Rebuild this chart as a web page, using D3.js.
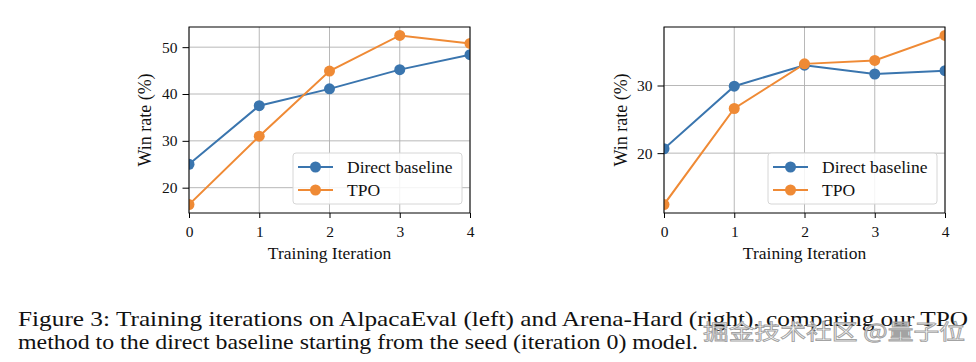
<!DOCTYPE html>
<html>
<head>
<meta charset="utf-8">
<script src="https://cdn.jsdelivr.net/npm/d3@7"></script>
<style>
  html, body { margin: 0; padding: 0; background: #fff; }
  svg { display: block; }
</style>
</head>
<body>
<svg id="chart" width="976" height="362"></svg>
<script>
// ---------------- data ----------------
const iterations = [0, 1, 2, 3, 4];
const seriesNames = ["Direct baseline", "TPO"];
const alpacaDirect = [25.0, 37.5, 41.1, 45.2, 48.4];
const alpacaTPO    = [16.4, 31.0, 44.9, 52.5, 50.8];
const arenaDirect  = [20.65, 29.9, 33.0, 31.7, 32.2];
const arenaTPO     = [12.4, 26.6, 33.2, 33.7, 37.4];
const alpacaYTicks = [20, 30, 40, 50];
const arenaYTicks  = [20, 30];
const xTicks = [0, 1, 2, 3, 4];
const xLabel = "Training Iteration";
const yLabel = "Win rate (%)";
const captionLines = [
  "Figure 3: Training iterations on AlpacaEval (left) and Arena-Hard (right), comparing our TPO",
  "method to the direct baseline starting from the seed (iteration 0) model."
];
const watermark = "掘金技术社区 @量子位";

// ---------------- style ----------------
const colors = ["#3a75ae", "#ef8a35"];
const serif = "'Liberation Serif', 'Times New Roman', serif";

const svg = d3.select("#chart");

function panel(cfg) {
  const { x0, x1, y0, y1, series, yTicks, id } = cfg;
  const all = series.flat();
  const mn = d3.min(all), mx = d3.max(all), r = mx - mn;
  const x = d3.scaleLinear().domain([0, 4]).range([x0, x1]);
  const y = d3.scaleLinear().domain([mn - 0.05 * r, mx + 0.05 * r]).range([y1, y0]);

  const g = svg.append("g");

  svg.append("defs").append("clipPath").attr("id", "clip" + id)
    .append("rect").attr("x", x0).attr("y", y0).attr("width", x1 - x0).attr("height", y1 - y0);

  // grid
  g.append("g").selectAll("line").data(xTicks).join("line")
    .attr("x1", d => x(d)).attr("x2", d => x(d)).attr("y1", y0).attr("y2", y1)
    .attr("stroke", "#b0b0b0").attr("stroke-width", 0.9);
  g.append("g").selectAll("line").data(yTicks).join("line")
    .attr("x1", x0).attr("x2", x1).attr("y1", d => y(d)).attr("y2", d => y(d))
    .attr("stroke", "#b0b0b0").attr("stroke-width", 0.9);

  // series
  const line = d3.line().x((d, i) => x(iterations[i])).y(d => y(d));
  const sg = g.append("g").attr("clip-path", `url(#clip${id})`);
  series.forEach((vals, si) => {
    sg.append("path").datum(vals).attr("d", line)
      .attr("fill", "none").attr("stroke", colors[si]).attr("stroke-width", 2);
    sg.selectAll(null).data(vals).join("circle")
      .attr("cx", (d, i) => x(iterations[i])).attr("cy", d => y(d)).attr("r", 5.5)
      .attr("fill", colors[si]);
  });

  // axes
  const xa = g.append("g").attr("transform", `translate(0,${y1})`)
    .call(d3.axisBottom(x).tickValues(xTicks).tickFormat(d3.format("d")).tickSize(5).tickPadding(8));
  const ya = g.append("g").attr("transform", `translate(${x0},0)`)
    .call(d3.axisLeft(y).tickValues(yTicks).tickFormat(d3.format("d")).tickSize(6.5).tickPadding(5));
  [xa, ya].forEach(a => {
    a.select(".domain").remove();
    a.selectAll(".tick line").attr("stroke", "#000").attr("stroke-width", 1);
    a.selectAll(".tick text").attr("font-family", serif).attr("font-size", 15.5).attr("fill", "#111");
  });

  // spines
  g.append("rect").attr("x", x0).attr("y", y0).attr("width", x1 - x0).attr("height", y1 - y0)
    .attr("fill", "none").attr("stroke", "#000").attr("stroke-width", 1);

  // labels
  g.append("text").attr("x", (x0 + x1) / 2).attr("y", 259).attr("text-anchor", "middle")
    .attr("font-family", serif).attr("font-size", 17.5).attr("fill", "#111").text(xLabel);
  g.append("text").attr("transform", `translate(${cfg.ylabX},${(y0 + y1) / 2}) rotate(-90)`)
    .attr("text-anchor", "middle")
    .attr("font-family", serif).attr("font-size", 18).attr("fill", "#111").text(yLabel);

  // legend
  const lx = cfg.legX, ly = 153, lw = 169, lh = 51;
  const lg = g.append("g");
  lg.append("rect").attr("x", lx).attr("y", ly).attr("width", lw).attr("height", lh)
    .attr("rx", 3).attr("fill", "#fff").attr("fill-opacity", 0.85)
    .attr("stroke", "#d6d6d6").attr("stroke-width", 1);
  seriesNames.forEach((name, si) => {
    const yy = ly + 14 + si * 23;
    lg.append("line").attr("x1", lx + 5).attr("x2", lx + 40).attr("y1", yy).attr("y2", yy)
      .attr("stroke", colors[si]).attr("stroke-width", 2);
    lg.append("circle").attr("cx", lx + 22.5).attr("cy", yy).attr("r", 5.5).attr("fill", colors[si]);
    lg.append("text").attr("x", lx + 54).attr("y", yy + 6).attr("font-family", serif)
      .attr("font-size", 17.5).attr("fill", "#111").text(name);
  });
}

panel({ id: "L", x0: 189, x1: 470, y0: 27, y1: 213, series: [alpacaDirect, alpacaTPO],
        yTicks: alpacaYTicks, ylabX: 151, legX: 293 });
panel({ id: "R", x0: 664, x1: 945, y0: 27, y1: 213, series: [arenaDirect, arenaTPO],
        yTicks: arenaYTicks, ylabX: 626.5, legX: 768 });

// caption
svg.append("text").attr("x", 18).attr("y", 326).attr("font-family", serif).attr("font-size", 21)
  .attr("fill", "#111").attr("textLength", 950).attr("lengthAdjust", "spacingAndGlyphs").text(captionLines[0]);
svg.append("text").attr("x", 18).attr("y", 349).attr("font-family", serif).attr("font-size", 21)
  .attr("fill", "#111").attr("textLength", 680).attr("lengthAdjust", "spacingAndGlyphs").text(captionLines[1]);

// watermark
svg.append("text").attr("x", 703).attr("y", 339)
  .attr("font-family", "'Noto Sans CJK SC', sans-serif").attr("font-size", 21)
  .attr("fill", "#ffffff").attr("fill-opacity", 0.85)
  .attr("stroke", "#8a8a8a").attr("stroke-width", 0.9).attr("stroke-opacity", 0.8)
  .attr("textLength", 262).attr("lengthAdjust", "spacingAndGlyphs")
  .text(watermark);
</script>
</body>
</html>
